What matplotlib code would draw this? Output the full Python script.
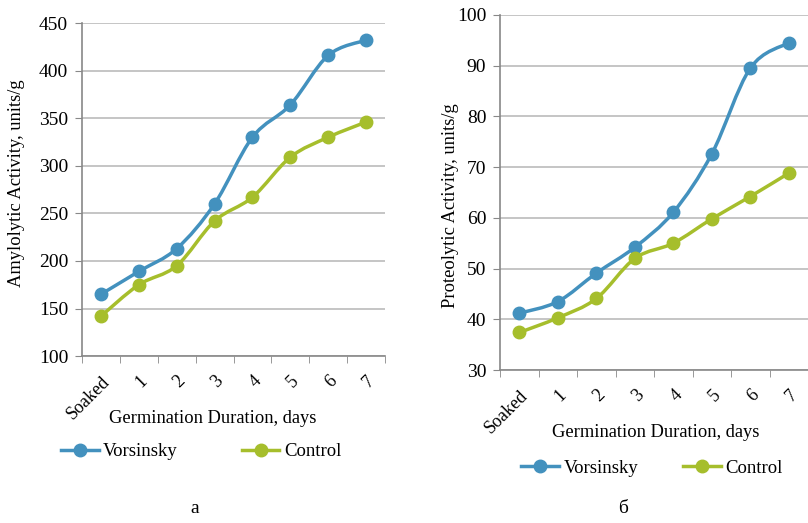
import numpy as np
import matplotlib.pyplot as plt
from matplotlib.path import Path
from matplotlib.patches import PathPatch
from matplotlib.lines import Line2D

plt.rcParams['font.family'] = ['Liberation Serif', 'DejaVu Serif']

categories = ['Soaked', '1', '2', '3', '4', '5', '6', '7']

amyl_vorsinsky = [165, 189, 213, 260, 330, 364, 416, 432]
amyl_control = [142, 175, 195, 242, 267, 309, 330, 346]

prot_vorsinsky = [41.2, 43.5, 49.1, 54.2, 61.1, 72.6, 89.5, 94.5]
prot_control = [37.4, 40.3, 44.1, 52.0, 55.0, 59.8, 64.2, 68.8]

blue = '#4391BE'
green = '#A6BE2C'


def smooth_path(xs, ys):
    # Excel-like smoothed line: Catmull-Rom through the points as cubic Beziers
    pts = np.column_stack([xs, ys]).astype(float)
    n = len(pts)
    verts = [pts[0]]
    codes = [Path.MOVETO]
    for i in range(n - 1):
        p0 = pts[i - 1] if i > 0 else pts[i]
        p1 = pts[i]
        p2 = pts[i + 1]
        p3 = pts[i + 2] if i + 2 < n else pts[i + 1]
        c1 = p1 + (p2 - p0) / 6.0
        c2 = p2 - (p3 - p1) / 6.0
        verts += [c1, c2, p2]
        codes += [Path.CURVE4] * 3
    return Path(verts, codes)


def draw_panel(ax, series, ylim, yticks, ylabel, xlab_pos, ylab_pos):
    x = np.arange(len(categories))
    for vals, col in series:
        ax.add_patch(PathPatch(smooth_path(x, vals), fill=False, edgecolor=col,
                               lw=2.5, capstyle='round', joinstyle='round', zorder=3))
        ax.plot(x, vals, 'o', color=col, ms=9, zorder=4)
    ax.set_xlim(-0.5, len(categories) - 0.5)
    ax.set_ylim(*ylim)
    ax.set_yticks(yticks)
    ax.set_xticks(x)
    ax.set_xticklabels(categories, rotation=45, ha='right', rotation_mode='anchor', fontsize=13)
    ax.set_xticks(np.arange(len(categories) + 1) - 0.5, minor=True)
    ax.tick_params(axis='x', which='major', length=0, pad=12)
    ax.tick_params(axis='x', which='minor', length=5, color='#888888', direction='out')
    ax.tick_params(axis='y', length=5, color='#888888', labelsize=14, pad=5)
    ax.grid(axis='y', color='#BBBBBB', lw=1.2)
    ax.set_axisbelow(True)
    for s in ['top', 'right']:
        ax.spines[s].set_visible(False)
    for s in ['left', 'bottom']:
        ax.spines[s].set_color('#888888')
        ax.spines[s].set_linewidth(1.2)
    ax.set_ylabel(ylabel, fontsize=13.3, va='center')
    ax.yaxis.set_label_coords(*ylab_pos)
    ax.set_xlabel('Germination Duration, days', fontsize=13.3, va='center')
    ax.xaxis.set_label_coords(*xlab_pos)


fig = plt.figure(figsize=(8.08, 5.23), dpi=100)
ax1 = fig.add_axes([0.1015, 0.319, 0.375, 0.637])
ax2 = fig.add_axes([0.619, 0.2925, 0.381, 0.679])

draw_panel(ax1, [(amyl_vorsinsky, blue), (amyl_control, green)],
           (100, 450), np.arange(100, 451, 50), 'Amylolytic Activity, units/g',
           (0.432, -0.186), (-0.215, 0.52))
draw_panel(ax2, [(prot_vorsinsky, blue), (prot_control, green)],
           (30, 100), np.arange(30, 101, 10), 'Proteolytic Activity, units/g',
           (0.505, -0.177), (-0.162, 0.462))

handles = [Line2D([], [], color=blue, lw=2.5, marker='o', ms=9),
           Line2D([], [], color=green, lw=2.5, marker='o', ms=9)]
names = ['Vorsinsky', 'Control']
fig.legend(handles, names, loc='center', bbox_to_anchor=(0.249, 0.136), ncol=2,
           frameon=False, fontsize=13.5, handlelength=2.0, handletextpad=0.25, columnspacing=3.4)
fig.legend(handles, names, loc='center', bbox_to_anchor=(0.807, 0.105), ncol=2,
           frameon=False, fontsize=13.5, handlelength=2.0, handletextpad=0.25, columnspacing=2.4)

fig.text(0.241, 0.012, 'а', fontsize=14, ha='center', va='bottom')
fig.text(0.771, 0.012, 'б', fontsize=14, ha='center', va='bottom')

fig.savefig('out.png', dpi=100)
